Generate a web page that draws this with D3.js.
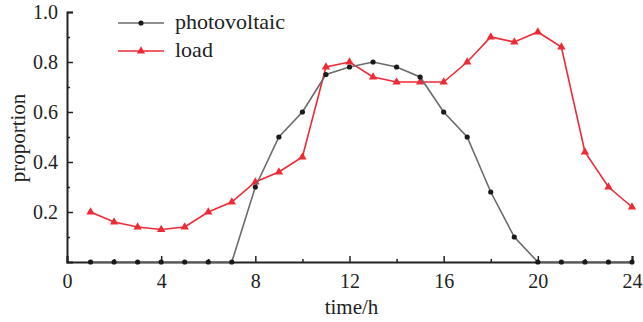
<!DOCTYPE html>
<html>
<head>
<meta charset="utf-8">
<script src="https://cdn.jsdelivr.net/npm/d3@7"></script>
<style>
  html, body { margin: 0; padding: 0; background: #fff; }
  svg text { font-family: "Liberation Serif", "DejaVu Serif", serif; fill: #222; }
</style>
</head>
<body>
<svg id="chart" width="643" height="322"></svg>
<script>
// Hourly share of daily peak for PV generation and load
const hours = d3.range(1, 25);
const photovoltaic = [0, 0, 0, 0, 0, 0, 0, 0.30, 0.50, 0.60, 0.75, 0.78,
                      0.80, 0.78, 0.74, 0.60, 0.50, 0.28, 0.10, 0, 0, 0, 0, 0];
const load = [0.20, 0.16, 0.14, 0.13, 0.14, 0.20, 0.24, 0.32, 0.36, 0.42, 0.78, 0.80,
              0.74, 0.72, 0.72, 0.72, 0.80, 0.90, 0.88, 0.92, 0.86, 0.44, 0.30, 0.22];
const xTicks = [0, 4, 8, 12, 16, 20, 24];
const xMinor = [2, 6, 10, 14, 18, 22];
const yTicks = [0.2, 0.4, 0.6, 0.8, 1.0];
const yMinor = [0.1, 0.3, 0.5, 0.7, 0.9];

const svg = d3.select("#chart");
const margin = { left: 67, right: 11, top: 12, bottom: 60 };
const W = 643, H = 322;

const x = d3.scaleLinear().domain([0, 24]).range([margin.left, W - margin.right]);
const y = d3.scaleLinear().domain([0, 1]).range([H - margin.bottom, margin.top]);

const axisColor = "#222";

// x axis (ticks point inward)
const gx = svg.append("g").attr("transform", `translate(0,${y(0)})`);
gx.call(d3.axisBottom(x).tickValues(xTicks).tickSize(-6).tickPadding(12).tickFormat(d3.format("d")));
gx.append("g").call(d3.axisBottom(x).tickValues(xMinor).tickSize(-3).tickFormat(""))
  .select(".domain").remove();

// y axis
const gy = svg.append("g").attr("transform", `translate(${x(0)},0)`);
gy.call(d3.axisLeft(y).tickValues(yTicks).tickSize(-6).tickPadding(9).tickFormat(d3.format(".1f")));
gy.append("g").call(d3.axisLeft(y).tickValues(yMinor).tickSize(-3).tickFormat(""))
  .select(".domain").remove();

svg.selectAll(".domain").attr("stroke", axisColor).attr("stroke-width", 2);
svg.selectAll(".tick line").attr("stroke", axisColor).attr("stroke-width", 1.5);
svg.selectAll(".tick text").attr("font-size", 20).attr("fill", "#222");

// axis titles
svg.append("text")
  .attr("x", (x(0) + x(24)) / 2 + 2).attr("y", 314)
  .attr("text-anchor", "middle").attr("font-size", 21)
  .text("time/h");
svg.append("text")
  .attr("transform", `translate(25,${(y(0) + y(1)) / 2 + 1}) rotate(-90)`)
  .attr("text-anchor", "middle").attr("font-size", 21)
  .text("proportion");

const pvColor = "#6b6b6b", pvDot = "#1a1a1a";
const loadColor = "#ee2a35";

const line = d3.line().x((d, i) => x(hours[i])).y(d => y(d));

// load series
svg.append("path").datum(load)
  .attr("d", line).attr("fill", "none")
  .attr("stroke", loadColor).attr("stroke-width", 1.6);
const tri = d3.symbol().type(d3.symbolTriangle).size(30);
svg.selectAll(".loadpt").data(load).join("path")
  .attr("transform", (d, i) => `translate(${x(hours[i])},${y(d)})`)
  .attr("d", tri).attr("fill", loadColor);

// photovoltaic series
svg.append("path").datum(photovoltaic)
  .attr("d", line).attr("fill", "none")
  .attr("stroke", pvColor).attr("stroke-width", 1.6);
svg.selectAll(".pvpt").data(photovoltaic).join("circle")
  .attr("cx", (d, i) => x(hours[i])).attr("cy", d => y(d))
  .attr("r", 2.6).attr("fill", pvDot);

// legend
const legend = [
  { name: "photovoltaic", color: pvColor, marker: "circle", y: 23 },
  { name: "load", color: loadColor, marker: "triangle", y: 51 }
];
legend.forEach(l => {
  svg.append("line").attr("x1", 118).attr("x2", 164).attr("y1", l.y).attr("y2", l.y)
    .attr("stroke", l.color).attr("stroke-width", 1.6);
  if (l.marker === "circle") {
    svg.append("circle").attr("cx", 141).attr("cy", l.y).attr("r", 2.6).attr("fill", pvDot);
  } else {
    svg.append("path").attr("transform", `translate(141,${l.y})`).attr("d", tri).attr("fill", loadColor);
  }
  svg.append("text").attr("x", 175).attr("y", l.y + 6).attr("font-size", 22).text(l.name);
});
</script>
</body>
</html>
